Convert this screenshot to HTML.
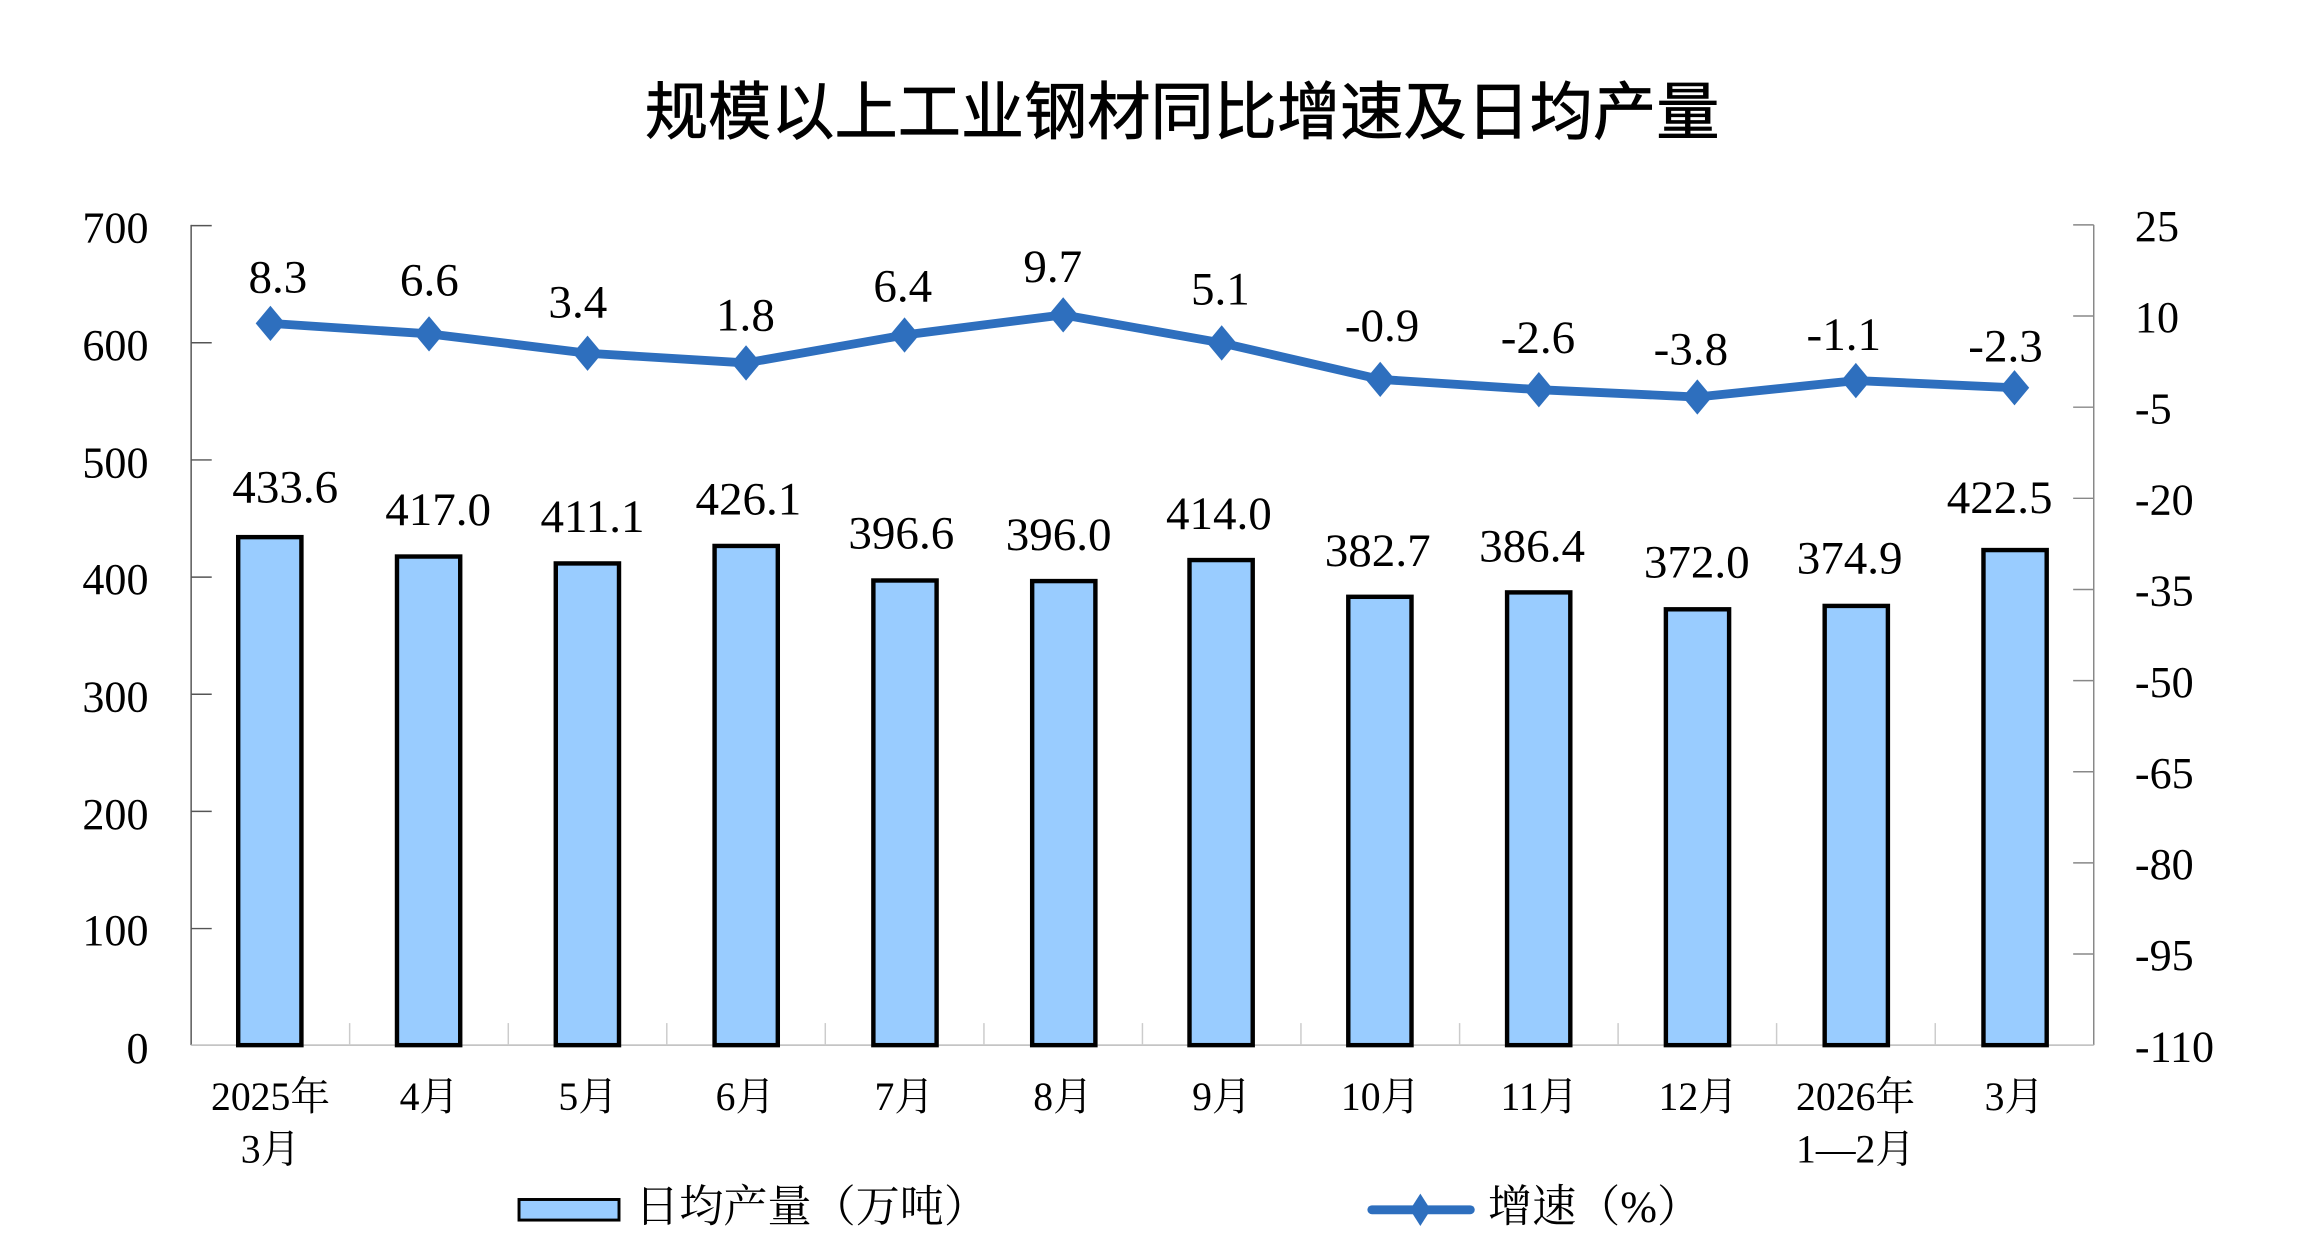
<!DOCTYPE html>
<html><head><meta charset="utf-8"><style>
html,body{margin:0;padding:0;background:#fff;}
svg{display:block;}
</style></head><body>
<svg width="2304" height="1248" viewBox="0 0 1567 849" preserveAspectRatio="none" xmlns="http://www.w3.org/2000/svg">
<rect width="1567" height="849" fill="#fff"/>
<text x="804" y="91" text-anchor="middle" font-family="'Liberation Sans','Noto Sans CJK SC',sans-serif" font-size="43" fill="#000" stroke="#000" stroke-width="0.5">规模以上工业钢材同比增速及日均产量</text>
<g stroke="#888" stroke-width="1" fill="none">
<line x1="130" y1="153" x2="130" y2="711" stroke="#555"/>
<line x1="1424" y1="153" x2="1424" y2="711"/>
<line x1="130" y1="711" x2="1424" y2="711" stroke="#bbb"/>
</g>
<g stroke="#555" stroke-width="1">
<line x1="130" y1="153.5" x2="144" y2="153.5"/><line x1="130" y1="233.2" x2="144" y2="233.2"/><line x1="130" y1="312.9" x2="144" y2="312.9"/><line x1="130" y1="392.6" x2="144" y2="392.6"/><line x1="130" y1="472.3" x2="144" y2="472.3"/><line x1="130" y1="552" x2="144" y2="552"/><line x1="130" y1="631.7" x2="144" y2="631.7"/>
</g>
<g stroke="#888" stroke-width="1">
<line x1="1410" y1="153" x2="1424" y2="153"/><line x1="1410" y1="215" x2="1424" y2="215"/><line x1="1410" y1="277" x2="1424" y2="277"/><line x1="1410" y1="339" x2="1424" y2="339"/><line x1="1410" y1="401" x2="1424" y2="401"/><line x1="1410" y1="463" x2="1424" y2="463"/><line x1="1410" y1="525" x2="1424" y2="525"/><line x1="1410" y1="587" x2="1424" y2="587"/><line x1="1410" y1="649" x2="1424" y2="649"/>
</g>
<g stroke="#ccc" stroke-width="1">
<line x1="237.8" y1="696" x2="237.8" y2="711"/><line x1="345.7" y1="696" x2="345.7" y2="711"/><line x1="453.5" y1="696" x2="453.5" y2="711"/><line x1="561.3" y1="696" x2="561.3" y2="711"/><line x1="669.2" y1="696" x2="669.2" y2="711"/><line x1="777" y1="696" x2="777" y2="711"/><line x1="884.8" y1="696" x2="884.8" y2="711"/><line x1="992.7" y1="696" x2="992.7" y2="711"/><line x1="1100.5" y1="696" x2="1100.5" y2="711"/><line x1="1208.3" y1="696" x2="1208.3" y2="711"/><line x1="1316.2" y1="696" x2="1316.2" y2="711"/>
</g>
<g font-family="'Liberation Serif',serif" font-size="30" fill="#000" text-anchor="end">
<text x="101" y="165">700</text><text x="101" y="245">600</text><text x="101" y="325">500</text><text x="101" y="404">400</text><text x="101" y="484">300</text><text x="101" y="564">200</text><text x="101" y="643">100</text><text x="101" y="723">0</text>
</g>
<g font-family="'Liberation Serif',serif" font-size="30" fill="#000" text-anchor="start">
<text x="1452" y="164">25</text><text x="1452" y="226">10</text><text x="1452" y="288">-5</text><text x="1452" y="350">-20</text><text x="1452" y="412">-35</text><text x="1452" y="474">-50</text><text x="1452" y="536">-65</text><text x="1452" y="598">-80</text><text x="1452" y="660">-95</text><text x="1452" y="722">-110</text>
</g>
<g fill="#99ccff" stroke="#000" stroke-width="3">
<rect x="162" y="365.4" width="43" height="345.6"/>
<rect x="270" y="378.6" width="43" height="332.4"/>
<rect x="378" y="383.3" width="43" height="327.7"/>
<rect x="486" y="371.4" width="43" height="339.6"/>
<rect x="594" y="394.9" width="43" height="316.1"/>
<rect x="702" y="395.3" width="43" height="315.7"/>
<rect x="809" y="381" width="43" height="330"/>
<rect x="917" y="406" width="43" height="305"/>
<rect x="1025" y="403" width="43" height="308"/>
<rect x="1133" y="414.5" width="43" height="296.5"/>
<rect x="1241" y="412.2" width="43" height="298.8"/>
<rect x="1349" y="374.2" width="43" height="336.8"/>
</g>
<g font-family="'Liberation Serif',serif" font-size="32" fill="#000" text-anchor="middle">
<text x="194" y="342">433.6</text><text x="298" y="357">417.0</text><text x="403" y="362">411.1</text><text x="509" y="350">426.1</text><text x="613" y="373">396.6</text><text x="720" y="374">396.0</text><text x="829" y="360">414.0</text><text x="937" y="385">382.7</text><text x="1042" y="382">386.4</text><text x="1154" y="393">372.0</text><text x="1258" y="390">374.9</text><text x="1360" y="349">422.5</text>
</g>
<polyline fill="none" stroke="#2e6fbe" stroke-width="6" stroke-linejoin="round" points="183.9,220 291.8,227.1 399.6,240.3 507.4,246.9 615.2,227.9 723.1,214.2 830.9,233.3 938.7,258.1 1046.6,265.1 1154.4,270.1 1262.2,258.9 1370.1,263.8"/>
<g fill="#2e6fbe">
<path d="M183.9,208 l10,12 l-10,12 l-10,-12z"/><path d="M291.8,215.1 l10,12 l-10,12 l-10,-12z"/><path d="M399.6,228.3 l10,12 l-10,12 l-10,-12z"/><path d="M507.4,234.9 l10,12 l-10,12 l-10,-12z"/><path d="M615.2,215.9 l10,12 l-10,12 l-10,-12z"/><path d="M723.1,202.2 l10,12 l-10,12 l-10,-12z"/><path d="M830.9,221.3 l10,12 l-10,12 l-10,-12z"/><path d="M938.7,246.1 l10,12 l-10,12 l-10,-12z"/><path d="M1046.6,253.1 l10,12 l-10,12 l-10,-12z"/><path d="M1154.4,258.1 l10,12 l-10,12 l-10,-12z"/><path d="M1262.2,246.9 l10,12 l-10,12 l-10,-12z"/><path d="M1370.1,251.8 l10,12 l-10,12 l-10,-12z"/>
</g>
<g font-family="'Liberation Serif',serif" font-size="32" fill="#000" text-anchor="middle">
<text x="189" y="199">8.3</text><text x="292" y="201">6.6</text><text x="393" y="216">3.4</text><text x="507" y="225">1.8</text><text x="614" y="205">6.4</text><text x="716" y="192">9.7</text><text x="830" y="207">5.1</text><text x="940" y="232">-0.9</text><text x="1046" y="240">-2.6</text><text x="1150" y="248">-3.8</text><text x="1254" y="238">-1.1</text><text x="1364" y="246">-2.3</text>
</g>
<g font-family="'Liberation Serif','Noto Serif CJK SC',serif" font-size="27" fill="#000" text-anchor="middle">
<text x="184" y="755">2025年</text><text x="184" y="791">3月</text>
<text x="292" y="755">4月</text><text x="400" y="755">5月</text><text x="507" y="755">6月</text><text x="615" y="755">7月</text><text x="723" y="755">8月</text><text x="831" y="755">9月</text><text x="939" y="755">10月</text><text x="1047" y="755">11月</text><text x="1155" y="755">12月</text>
<text x="1262" y="755">2026年</text><text x="1262" y="791">1—2月</text>
<text x="1370" y="755">3月</text>
</g>
<rect x="353" y="816" width="68" height="14" fill="#99ccff" stroke="#000" stroke-width="2"/>
<text x="432" y="831" font-family="'Liberation Serif','Noto Serif CJK SC',serif" font-size="30" fill="#000">日均产量（万吨）</text>
<line x1="933" y1="823" x2="1000" y2="823" stroke="#2e6fbe" stroke-width="6" stroke-linecap="round"/>
<path d="M966,812 l7,11 l-7,11 l-7,-11z" fill="#2e6fbe"/>
<text x="1012" y="831" font-family="'Liberation Serif','Noto Serif CJK SC',serif" font-size="30" fill="#000">增速（%）</text>
</svg>
</body></html>
